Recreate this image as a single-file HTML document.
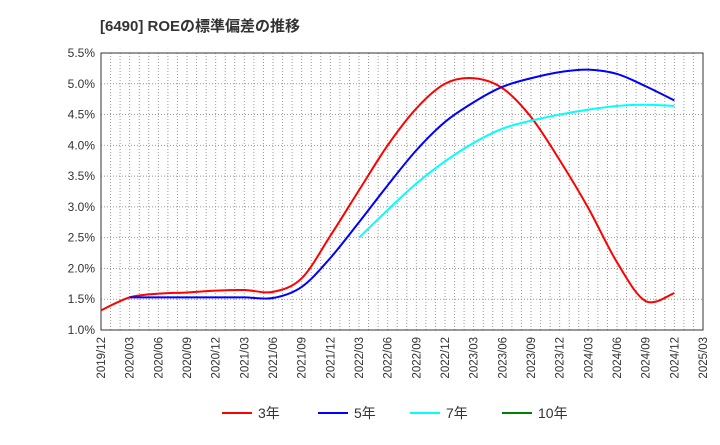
<!DOCTYPE html>
<html><head><meta charset="utf-8"><style>
body{margin:0;background:#fff;font-family:"Liberation Sans","Noto Sans CJK JP",sans-serif}
</style></head><body>
<svg id="c" width="720" height="440" xmlns="http://www.w3.org/2000/svg">
<text x="100" y="31" font-size="15" font-weight="bold" fill="#333" font-family="Liberation Sans, Noto Sans CJK JP, sans-serif">[6490]  ROEの標準偏差の推移</text>
<g id="grid"></g><g id="axes"></g><g id="series"></g><g id="legend"></g>
</svg>
<script>
const xLabels=["2019/12","2020/03","2020/06","2020/09","2020/12","2021/03","2021/06","2021/09","2021/12","2022/03","2022/06","2022/09","2022/12","2023/03","2023/06","2023/09","2023/12","2024/03","2024/06","2024/09","2024/12","2025/03"];
const yTicks=[1.0,1.5,2.0,2.5,3.0,3.5,4.0,4.5,5.0,5.5];
const s3=[1.32,1.53,1.59,1.61,1.64,1.65,1.62,1.84,2.53,3.27,4.0,4.6,5.0,5.09,4.93,4.46,3.76,2.98,2.1,1.47,1.6];
const s5=[null,1.53,1.53,1.53,1.53,1.53,1.52,1.7,2.17,2.75,3.35,3.92,4.38,4.7,4.95,5.09,5.19,5.23,5.16,4.96,4.73];
const s7=[null,null,null,null,null,null,null,null,null,2.5,2.95,3.38,3.74,4.04,4.27,4.4,4.5,4.58,4.64,4.66,4.64];
const s10=[];
const NS="http://www.w3.org/2000/svg";
const L=101,R=703,T=53,B=330;
const x=i=>L+(R-L)*i/21;
const y=v=>B-(v-1.0)/(5.5-1.0)*(B-T);
function mk(tag,attrs,parent){const e=document.createElementNS(NS,tag);for(const k in attrs)e.setAttribute(k,attrs[k]);parent.appendChild(e);return e;}
const grid=document.getElementById('grid'),axes=document.getElementById('axes'),ser=document.getElementById('series'),leg=document.getElementById('legend');
for(let m=1;m<63;m++){const xx=L+(R-L)*m/63;const g=mk('line',{x1:xx,x2:xx,y1:T,y2:B,stroke:'#999','stroke-dasharray':'1,2','stroke-width':1},grid);

}
yTicks.forEach(v=>{const g=mk('line',{x1:L,x2:R,y1:y(v),y2:y(v),stroke:'#999','stroke-dasharray':'1,2'},grid);


const t=mk('text',{x:L-6,y:y(v)+4,'text-anchor':'end','font-size':12,fill:'#333'},axes);t.textContent=v.toFixed(1)+'%';

});
const fr=mk('rect',{x:L,y:T,width:R-L,height:B-T,fill:'none',stroke:'#333','stroke-width':1},axes);


xLabels.forEach((lb,i)=>{const t=mk('text',{x:0,y:0,'text-anchor':'end','font-size':11.5,fill:'#333',transform:`translate(${x(i)+4},${B+7}) rotate(-90)`},axes);t.textContent=lb;

});
function path(arr){const p=[];arr.forEach((v,i)=>{if(v!=null)p.push([x(i),y(v)]);});if(p.length<2)return '';
let d=`M${p[0][0]},${p[0][1]}`;for(let i=0;i<p.length-1;i++){const p0=p[i-1]||p[i],p1=p[i],p2=p[i+1],p3=p[i+2]||p2;
d+=` C${p1[0]+(p2[0]-p0[0])/6},${p1[1]+(p2[1]-p0[1])/6} ${p2[0]-(p3[0]-p1[0])/6},${p2[1]-(p3[1]-p1[1])/6} ${p2[0]},${p2[1]}`;}return d;}
const series=[[s3,'#ff0000','3年','series-3y'],[s5,'#0000ff','5年','series-5y'],[s7,'#00ffff','7年','series-7y'],[s10,'#008000','10年','series-10y']];
series.forEach(([arr,c,nm,id])=>{const d=path(arr);if(d){const p=mk('path',{d,fill:'none',stroke:c,'stroke-width':2},ser);

}});
const lx=[222,318,410,502];
series.forEach(([arr,c,nm,id],i)=>{const g=mk('g',{},leg);


mk('line',{x1:lx[i],x2:lx[i]+30,y1:413,y2:413,stroke:c,'stroke-width':2},g);
const t=mk('text',{x:lx[i]+36,y:418,'font-size':14,fill:'#333'},g);t.textContent=nm;});
</script>
</body></html>
